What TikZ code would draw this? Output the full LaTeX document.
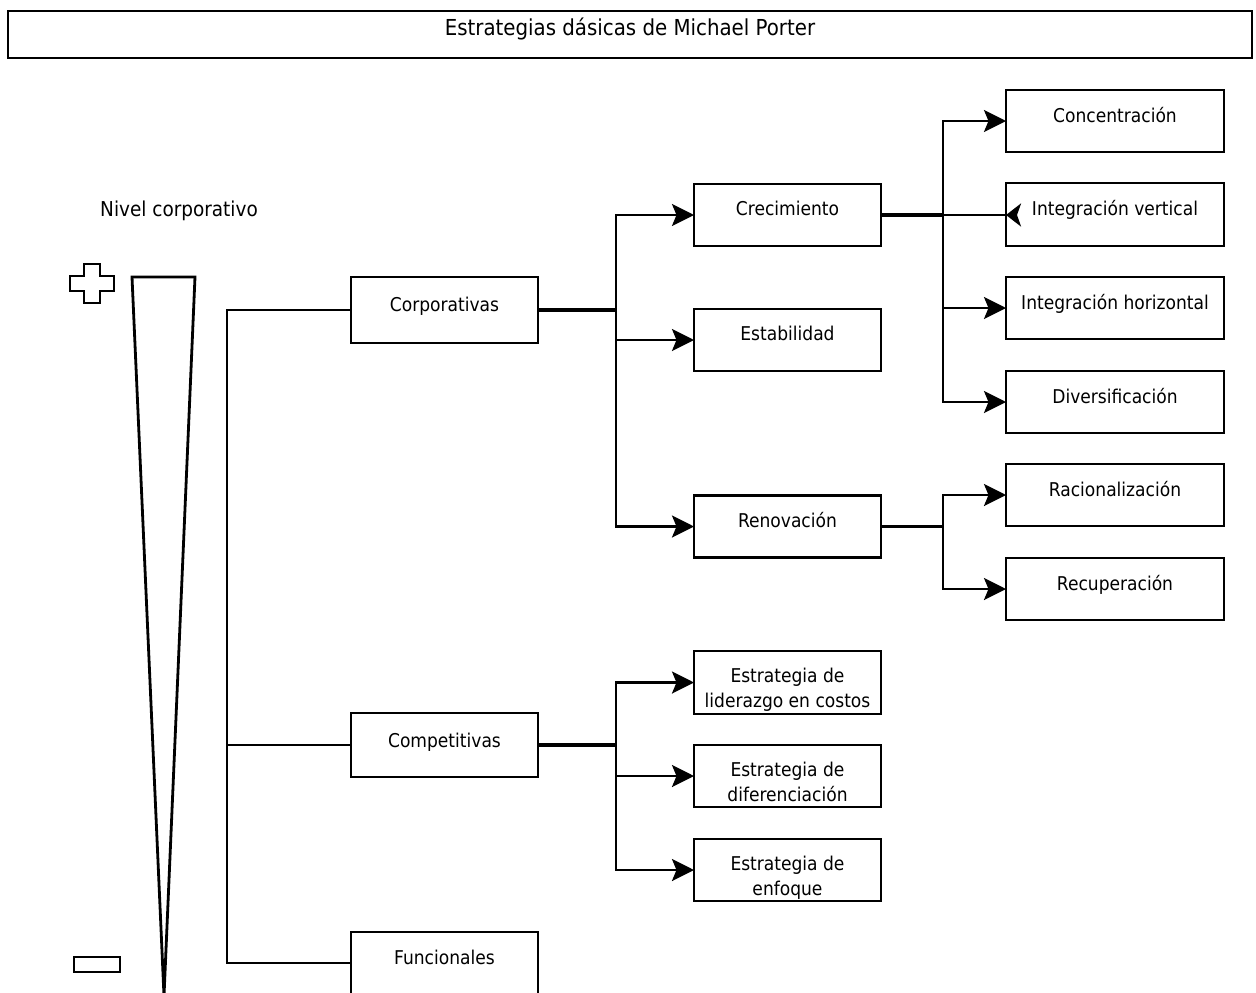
\documentclass[tikz,border=0pt]{standalone}
\usepackage{fontspec}
\setmainfont{DejaVu Sans Condensed}
\usetikzlibrary{arrows.meta}
\begin{document}
\begin{tikzpicture}[x=1pt,y=-1pt,
  box/.style={draw, line width=2.8pt, rectangle, inner sep=0pt, outer sep=0pt, minimum height=62pt},
  narrow/.style={box, minimum width=187pt},
  wide/.style={box, minimum width=218pt},
  lbl/.style={anchor=north, inner sep=0pt, align=center, font=\fontsize{19}{24.5}\selectfont},
  wire/.style={line width=2.8pt},
  stub/.style={line width=4.2pt},
  arr/.style={wire, -{Stealth[length=22pt,width=22pt,inset=4.5pt]}},
  backarr/.style={wire, shorten >=-15pt, -{Stealth[length=15pt,width=23pt,inset=4pt,reversed]}},
]
\useasboundingbox (0,0) rectangle (1256,993);
\fill[white] (0,0) rectangle (1256,993);

% heading
\node[box, minimum width=1244pt, minimum height=47pt] (title) at (630,34.5) {};
\node[lbl, font=\fontsize{22}{26}\selectfont] (titletext) at ([yshift=-7pt]title.north) {Estrategias dásicas de Michael Porter};

% level scale: plus, wedge, minus
\node[lbl, anchor=base, font=\fontsize{20.5}{24}\selectfont] (nivel) at (179,216) {Nivel corporativo};
\draw[line width=2.8pt] (84,264) -- (100,264) -- (100,276) -- (114,276) -- (114,291) -- (100,291)
  -- (100,303) -- (84,303) -- (84,291) -- (70,291) -- (70,276) -- (84,276) -- cycle;
\draw[line width=2.8pt] (132,277) -- (195,277) -- (164,996) -- cycle;
\draw[line width=2.8pt] (74,957) rectangle (120,972);

% strategy levels
\node[narrow, minimum height=66pt] (corp) at (444.5,310) {};
\node[narrow, minimum height=64pt] (comp) at (444.5,745) {};
\node[narrow] (func) at (444.5,963) {};
\node[lbl] at ([yshift=-20pt]corp.north) {Corporativas};
\node[lbl] at ([yshift=-20pt]comp.north) {Competitivas};
\node[lbl] at ([yshift=-18pt]func.north) {Funcionales};

% corporate strategies
\node[narrow] (crec) at (787.5,215) {};
\node[narrow] (estab) at (787.5,340) {};
\node[narrow] (renov) at (787.5,526.5) {};
\node[lbl] at ([yshift=-17pt]crec.north) {Crecimiento};
\node[lbl] at ([yshift=-17pt]estab.north) {Estabilidad};
\node[lbl] at ([yshift=-17pt]renov.north) {Renovación};

% competitive strategies
\node[narrow, minimum height=63pt] (lid) at (787.5,682.5) {};
\node[narrow] (dif) at (787.5,776) {};
\node[narrow] (enf) at (787.5,870) {};
\node[lbl] at ([yshift=-17pt]lid.north) {Estrategia de\\liderazgo en costos};
\node[lbl] at ([yshift=-17pt]dif.north) {Estrategia de\\diferenciación};
\node[lbl] at ([yshift=-17pt]enf.north) {Estrategia de\\enfoque};

% growth and renewal options
\node[wide] (conc) at (1115,121) {};
\node[wide, minimum height=63pt] (intv) at (1115,214.5) {};
\node[wide] (inth) at (1115,308) {};
\node[wide] (div) at (1115,402) {};
\node[wide] (rac) at (1115,495) {};
\node[wide] (rec) at (1115,589) {};
\node[lbl] at ([yshift=-17pt]conc.north) {Concentración};
\node[lbl] at ([yshift=-17pt]intv.north) {Integración vertical};
\node[lbl] at ([yshift=-17pt]inth.north) {Integración horizontal};
\node[lbl] at ([yshift=-17pt]div.north) {Diversificación};
\node[lbl] at ([yshift=-17pt]rac.north) {Racionalización};
\node[lbl] at ([yshift=-17pt]rec.north) {Recuperación};

% left trunk
\coordinate (trunk) at (227,745);
\draw[wire] (corp.west) -| (trunk);
\draw[wire] (comp.west) -- (trunk);
\draw[wire] (func.west) -| (trunk);

% corporate branch
\coordinate (j1) at (616,310);
\draw[stub] (corp.east) -- (j1);
\draw[arr] (j1) |- (crec.west);
\draw[arr] (j1) |- (estab.west);
\draw[arr] (j1) |- (renov.west);

% growth branch
\coordinate (j2) at (943,215);
\draw[stub] (crec.east) -- (j2);
\draw[arr] (j2) |- (conc.west);
\draw[backarr] (j2) -- (intv.west |- j2);
\draw[arr] (j2) |- (inth.west);
\draw[arr] (j2) |- (div.west);

% renewal branch
\coordinate (j3) at (943,526.5);
\draw[wire] (renov.east) -- (j3);
\draw[arr] (j3) |- (rac.west);
\draw[arr] (j3) |- (rec.west);

% competitive branch
\coordinate (j4) at (616,745);
\draw[stub] (comp.east) -- (j4);
\draw[arr] (j4) |- (lid.west);
\draw[arr] (j4) |- (dif.west);
\draw[arr] (j4) |- (enf.west);
\end{tikzpicture}
\end{document}
